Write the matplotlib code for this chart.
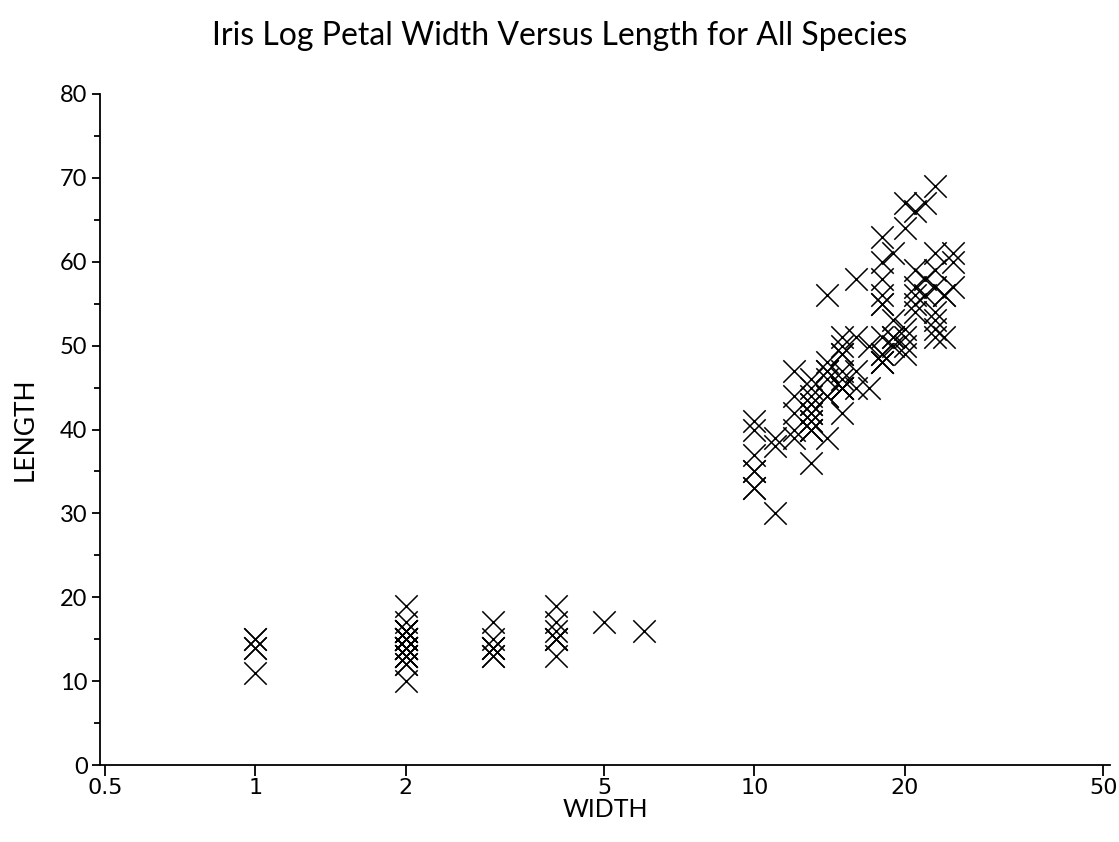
import matplotlib.pyplot as plt
from matplotlib.ticker import FixedLocator, FixedFormatter, MultipleLocator

# Iris petal measurements (mm): setosa, versicolor, virginica
setosa_width = [2, 2, 2, 2, 2, 4, 3, 2, 2, 1, 2, 2, 1, 1, 2, 4, 4, 3, 3, 3,
                2, 4, 2, 5, 2, 2, 4, 2, 2, 2, 2, 4, 1, 2, 2, 2, 2, 1, 2, 2,
                3, 3, 2, 6, 4, 3, 2, 2, 2, 2]
setosa_length = [14, 14, 13, 15, 14, 17, 14, 15, 14, 15, 15, 16, 14, 11, 12, 15, 13, 14, 17, 15,
                 17, 15, 10, 17, 19, 16, 16, 15, 14, 16, 16, 15, 15, 14, 15, 12, 13, 14, 13, 15,
                 13, 13, 13, 16, 19, 14, 16, 14, 15, 14]
versicolor_width = [14, 15, 15, 13, 15, 13, 16, 10, 13, 14, 10, 15, 10, 14, 13, 14, 15, 10, 15, 11,
                    18, 13, 15, 12, 13, 14, 14, 17, 15, 10, 11, 10, 12, 16, 15, 16, 15, 13, 13, 13,
                    12, 14, 12, 10, 13, 12, 13, 13, 11, 13]
versicolor_length = [47, 45, 49, 40, 46, 45, 47, 33, 46, 39, 35, 42, 40, 47, 36, 44, 45, 41, 45, 39,
                     48, 40, 49, 47, 43, 44, 48, 50, 45, 35, 38, 37, 39, 51, 45, 45, 47, 44, 41, 40,
                     44, 46, 40, 33, 42, 42, 42, 43, 30, 41]
virginica_width = [25, 19, 21, 18, 22, 21, 17, 18, 18, 25, 20, 19, 21, 20, 24, 23, 18, 22, 23, 15,
                   23, 20, 20, 18, 21, 18, 18, 18, 21, 16, 19, 20, 22, 15, 14, 23, 24, 18, 18, 21,
                   24, 23, 19, 23, 25, 23, 19, 20, 23, 18]
virginica_length = [60, 51, 59, 56, 58, 66, 45, 63, 58, 61, 51, 53, 55, 50, 51, 53, 55, 67, 69, 50,
                    57, 49, 67, 49, 57, 60, 48, 49, 56, 58, 61, 64, 56, 51, 56, 61, 56, 55, 48, 54,
                    56, 51, 51, 59, 57, 52, 50, 52, 54, 51]

width = setosa_width + versicolor_width + virginica_width
length = setosa_length + versicolor_length + virginica_length

x_ticks = [0.5, 1, 2, 5, 10, 20, 50]
x_labels = ['0.5', '1', '2', '5', '10', '20', '50']

plt.rcParams['font.family'] = ['Lato', 'DejaVu Sans']

fig = plt.figure(figsize=(11.19, 8.42), dpi=100)
ax = fig.add_axes([0.0894, 0.0914, 0.9026, 0.797])

ax.scatter(width, length, marker='x', s=260, c='black', linewidths=1.1)

ax.set_xscale('log')
ax.set_xlim(0.4886, 51.6)
ax.set_ylim(0, 80)

ax.xaxis.set_major_locator(FixedLocator(x_ticks))
ax.xaxis.set_major_formatter(FixedFormatter(x_labels))
ax.xaxis.set_minor_locator(FixedLocator([]))
ax.yaxis.set_major_locator(MultipleLocator(10))
ax.yaxis.set_minor_locator(MultipleLocator(5))

for s in ['top', 'right']:
    ax.spines[s].set_visible(False)
for s in ['left', 'bottom']:
    ax.spines[s].set_linewidth(1.3)

ax.tick_params(axis='x', which='major', direction='out', length=8, width=1.3,
               labelsize=16, pad=1)
ax.tick_params(axis='y', which='major', direction='out', length=6, width=1.3,
               labelsize=17, pad=3)
ax.tick_params(axis='y', which='minor', direction='out', length=4, width=1.3)
for lab in ax.get_xticklabels():
    lab.set_family('DejaVu Sans')

ax.set_xlabel('WIDTH', fontsize=18, labelpad=0)
ax.set_ylabel('LENGTH', fontsize=19, labelpad=16)

fig.text(0.5, 1 - 36 / 842, 'Iris Log Petal Width Versus Length for All Species',
         fontsize=23, ha='center', va='center')

plt.savefig('out.png', dpi=100)
plt.close()
